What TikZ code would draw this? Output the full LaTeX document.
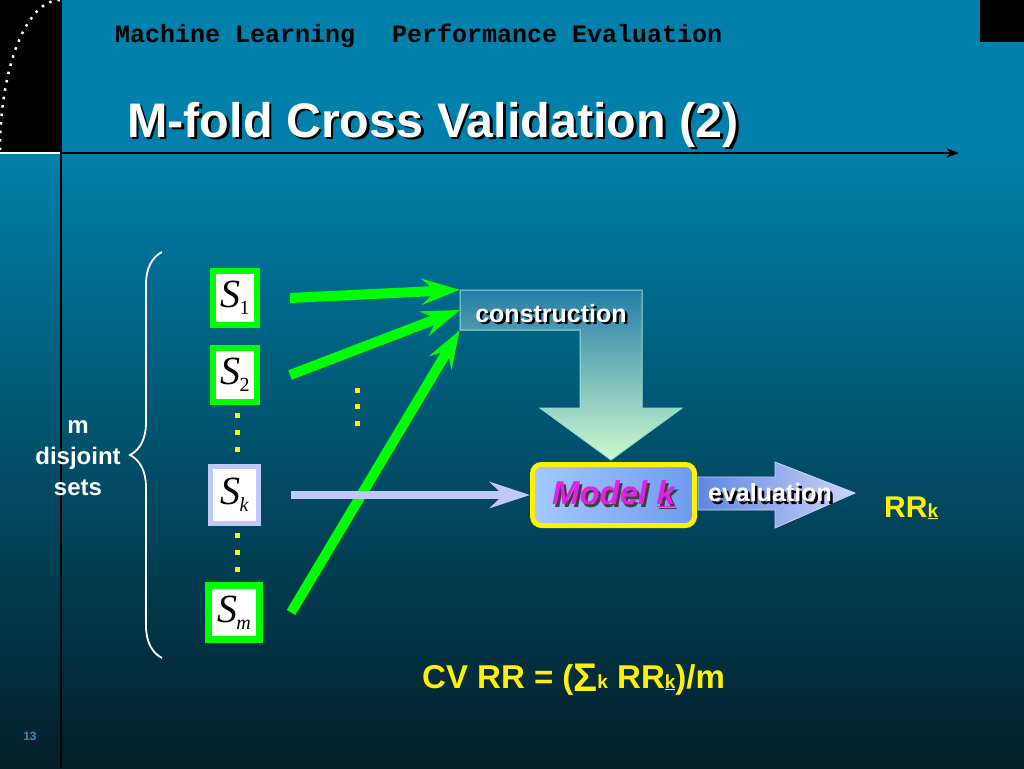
\documentclass[tikz,border=0pt]{standalone}
\usepackage{fontspec}
\setmainfont{Liberation Sans}
\newfontfamily\monofont{Liberation Mono}
\newfontfamily\timesfont{Liberation Serif}
\usetikzlibrary{arrows.meta,decorations.pathreplacing}

\definecolor{bgtop}{RGB}{0,128,170}
\definecolor{bgbottom}{RGB}{3,30,40}
\definecolor{sgreen}{RGB}{0,255,0}
\definecolor{lav}{RGB}{192,200,248}
\definecolor{magent}{RGB}{232,30,232}
\definecolor{pagenum}{RGB}{50,140,190}
\definecolor{contop}{RGB}{35,125,168}
\definecolor{conmid}{RGB}{120,185,175}
\definecolor{conbot}{RGB}{205,250,205}
\definecolor{conedge}{RGB}{150,220,215}
\definecolor{modl}{RGB}{165,200,255}
\definecolor{modr}{RGB}{110,155,240}
\definecolor{evl}{RGB}{95,135,225}
\definecolor{evr}{RGB}{205,212,250}

\newcommand{\shadowed}[2]{\makebox[0pt][l]{\hspace{2.5pt}\raisebox{-2.5pt}{\textcolor{#1}{#2}}}#2}
\newcommand{\setname}[1]{{\itshape S}\kern-1pt\raisebox{-7pt}{\fontsize{20}{20}\selectfont #1}}

\begin{document}
\begin{tikzpicture}[x=1pt, y=-1pt,
  set/.style = {draw=sgreen, line width=6pt, fill=white, inner sep=0pt,
    minimum width=44pt, minimum height=54pt, font=\timesfont\fontsize{40}{40}\selectfont},
  garrow/.style = {draw=sgreen, line width=10pt, -{Stealth[length=38pt, width=26pt, inset=14pt]}},
  wtext/.style = {text=white, font=\bfseries\fontsize{25}{25}\selectfont}]
	\useasboundingbox (0,0) rectangle (1024,768);
	% background
	\fill[bgtop] (0,0) rectangle (1024,150);
	\shade[top color=bgtop, bottom color=bgbottom] (0,150) rectangle (1024,768);
	\fill[black] (0,0) rectangle (61,152);
	\draw[white, line width=2.5pt, dash pattern=on 2.5pt off 6pt] (0,150) arc[start angle=180, end angle=270, x radius=60, y radius=150];
	\draw[white, line width=2.5pt] (0,153) -- (61,153);
	\draw[black, line width=2.5pt] (61,0) -- (61,768);
	\draw[black, line width=2.5pt, -{Stealth[length=12pt, width=9pt, inset=3pt]}] (61,153) -- (959,153);
	\fill[black] (980,0) rectangle (1024,42);
	% header
	\node[anchor=base west, inner sep=0pt, font=\monofont\bfseries\fontsize{25}{25}\selectfont] (course) at (115,42) {Machine Learning};
	\node[anchor=base west, inner sep=0pt, font=\monofont\bfseries\fontsize{25}{25}\selectfont] (topic) at (392,42) {Performance Evaluation};
	\node[anchor=base west, inner sep=0pt, text=white, font=\bfseries\fontsize{48.5}{48.5}\selectfont] (title) at (127,137) {\shadowed{black}{M-fold Cross Validation (2)}};
	% sets
	\node[set] (s1) at (235,298) {\setname{1}};
	\node[set] (s2) at (235,375) {\setname{2}};
	\node[set, draw=lav, line width=5pt, minimum width=48pt, minimum height=57pt] (sk) at (234.5,495) {\setname{\itshape k}};
	\node[set, line width=7pt, minimum width=51pt, minimum height=54pt] (sm) at (234,612.5) {\setname{\itshape m}};
	\foreach \y in {413,430,447,533,550,567} \fill[yellow] (235,\y) rectangle +(5,5);
	\foreach \y in {388,404,421} \fill[yellow] (355,\y) rectangle +(5,5);
	\node[wtext, align=center, font=\bfseries\fontsize{24}{31}\selectfont] (msets) at (78,458) {m\\disjoint\\sets};
	\draw[white, line width=1.8pt, decorate, decoration={brace, amplitude=32pt}] (162,658) -- (162,252);
	% construction
	\shadedraw[top color=contop, middle color=conmid, bottom color=conbot, draw=conedge, line width=1pt]
		(460,290) -- (642,290) -- (642,408) -- (682,408) -- (611,460) -- (540,408) -- (580,408) -- (580,330) -- (460,330) -- cycle;
	\node[wtext, minimum width=182pt, minimum height=40pt, inner sep=0pt, text height=27pt] (cons) at (551,310) {\shadowed{black}{construction}};
	% model
	\node[draw=yellow, line width=5pt, rounded corners=9pt, left color=modl, right color=modr,
		minimum width=162pt, minimum height=61pt, text=magent, font=\bfseries\itshape\fontsize{33}{33}\selectfont] (model) at (613.5,495) {\shadowed{black!75}{Model \underline{k}}};
	\shadedraw[left color=evl, right color=evr, draw=evr, line width=0.8pt]
		(698,477) -- (775,477) -- (775,462) -- (855,493) -- (775,528) -- (775,510) -- (698,510) -- cycle;
	\node[wtext] (eval) at (770,494) {\shadowed{black}{evaluation}};
	\node[anchor=base west, inner sep=0pt, text=yellow, font=\bfseries\fontsize{30}{30}\selectfont] (rrk) at (884,517) {RR{\fontsize{19}{19}\selectfont\underline{k}}};
	% arrows
	\draw[garrow] ([xshift=30pt]s1.east) -- (cons.north west);
	\draw[garrow] ([xshift=30pt]s2.east) -- (cons.west);
	\draw[garrow] ([xshift=28pt]sm.east) -- (cons.south west);
	\draw[draw=lav, line width=8pt, -{Stealth[length=40pt, width=26pt, inset=13pt]}] ([xshift=30pt]sk.east) -- (model.west);
	% formula
	\node[anchor=base west, inner sep=0pt, text=yellow, font=\bfseries\fontsize{33}{33}\selectfont] (cvrr) at (422,688) {CV RR = (\raisebox{-3pt}{\fontsize{40}{40}\selectfont Σ}{\fontsize{19}{19}\selectfont k} RR{\fontsize{19}{19}\selectfont\underline{k}})/m};
	\node[text=pagenum, font=\bfseries\fontsize{12}{12}\selectfont] (page) at (30,736) {13};
\end{tikzpicture}
\end{document}
